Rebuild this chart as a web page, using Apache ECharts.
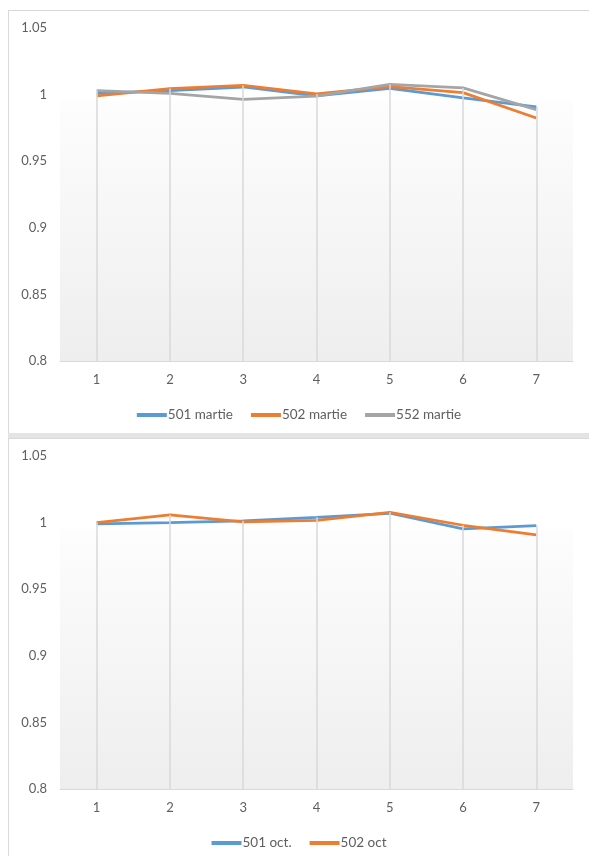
<!DOCTYPE html>
<html>
<head>
<meta charset="utf-8">
<script src="https://cdn.jsdelivr.net/npm/echarts@6/dist/echarts.min.js"></script>
<style>
  html, body { margin: 0; padding: 0; background: #ffffff; width: 589px; height: 856px; overflow: hidden; }
  .panel { position: absolute; left: 8px; width: 581px; border-left: 1px solid #d9d9d9; border-top: 1px solid #d9d9d9; box-sizing: border-box; }
  #panelTop { top: 10px; height: 424px; }
  #sep { position: absolute; left: 8px; top: 433px; width: 581px; height: 5px; background: #e4e4e4; }
  #panelBottom { top: 438px; height: 418px; }
  .chart { width: 100%; height: 100%; }
</style>
</head>
<body>
<div class="panel" id="panelTop"><div class="chart" id="chartTop"></div></div>
<div id="sep"></div>
<div class="panel" id="panelBottom"><div class="chart" id="chartBottom"></div></div>
<script>
// Categories (measurement points) and y-axis settings
const categories = ['1', '2', '3', '4', '5', '6', '7'];
const yMin = 0.8;
const yMax = 1.05;
const yStep = 0.05;

// March series
const s501martie = [1.001, 1.003, 1.0057, 0.999, 1.0047, 0.9975, 0.9907];
const s502martie = [0.999, 1.0045, 1.007, 1.0005, 1.006, 1.0015, 0.9824];
const s552martie = [1.003, 1.001, 0.9965, 0.9988, 1.0077, 1.005, 0.9887];

// October series
const s501oct = [0.999, 1.0, 1.0013, 1.004, 1.007, 0.9953, 0.9977];
const s502oct = [1.0, 1.0058, 1.0005, 1.0017, 1.0077, 0.998, 0.9908];

// Upper edge of the shaded plot backdrop
const backdropTop = 0.9955;

const COLORS = { blue: '#5b9bd5', orange: '#ed7d31', gray: '#a5a5a5' };
const FONT = 'Lato';
const TEXT = '#5f5f5f';

function buildOption(seriesDefs, legendTop) {
  // highest value at each category: drop lines run from the axis up to it
  const tops = categories.map((c, i) => Math.max(...seriesDefs.map(s => s.data[i])));
  const dropLines = categories.map((c, i) => [
    { coord: [c, yMin] },
    { coord: [c, tops[i]] }
  ]);

  const backdrop = {
    name: '__backdrop',
    type: 'line',
    data: tops,
    symbol: 'none',
    lineStyle: { opacity: 0 },
    silent: true,
    z: 1,
    markArea: {
      silent: true,
      itemStyle: {
        color: {
          type: 'linear', x: 0, y: 0, x2: 0, y2: 1,
          colorStops: [
            { offset: 0, color: '#fdfdfd' },
            { offset: 1, color: '#eeeeee' }
          ]
        }
      },
      data: [[{ yAxis: backdropTop }, { yAxis: yMin }]]
    },
    markLine: {
      silent: true,
      symbol: 'none',
      label: { show: false },
      lineStyle: { color: '#d9d9d9', width: 1.5, type: 'solid' },
      data: dropLines
    }
  };

  const lines = seriesDefs.map(s => ({
    name: s.name,
    type: 'line',
    data: s.data,
    symbol: 'none',
    z: 3,
    color: s.color,
    lineStyle: { color: s.color, width: 2.75 }
  }));

  return {
    animation: false,
    textStyle: { fontFamily: FONT },
    grid: { left: 51, right: 16, top: 17, height: 333 },
    xAxis: {
      type: 'category',
      data: categories,
      boundaryGap: true,
      axisLine: { lineStyle: { color: '#d9d9d9', width: 1 } },
      axisTick: { show: false },
      axisLabel: { color: TEXT, fontSize: 13, margin: 12, fontFamily: FONT }
    },
    yAxis: {
      type: 'value',
      min: yMin,
      max: yMax,
      interval: yStep,
      axisLine: { show: false },
      axisTick: { show: false },
      splitLine: { show: false },
      axisLabel: { color: TEXT, fontSize: 13, margin: 13, fontFamily: FONT }
    },
    legend: {
      data: seriesDefs.map(s => s.name),
      top: legendTop,
      left: 'center',
      itemWidth: 30,
      itemHeight: 4,
      itemGap: 18,
      icon: 'rect',
      textStyle: { color: TEXT, fontSize: 13.5, fontFamily: FONT, padding: [0, 0, 0, -4] }
    },
    series: [backdrop, ...lines]
  };
}

const topChart = echarts.init(document.getElementById('chartTop'));
topChart.setOption(buildOption([
  { name: '501 martie', data: s501martie, color: COLORS.blue },
  { name: '502 martie', data: s502martie, color: COLORS.orange },
  { name: '552 martie', data: s552martie, color: COLORS.gray }
], 392));

const bottomChart = echarts.init(document.getElementById('chartBottom'));
bottomChart.setOption(buildOption([
  { name: '501 oct.', data: s501oct, color: COLORS.blue },
  { name: '502 oct', data: s502oct, color: COLORS.orange }
], 392));
</script>
</body>
</html>
